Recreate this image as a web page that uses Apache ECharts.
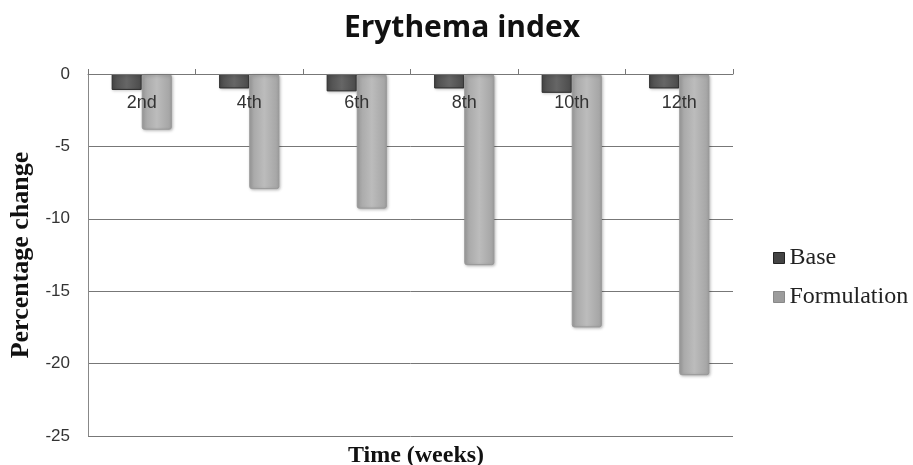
<!DOCTYPE html>
<html>
<head>
<meta charset="utf-8">
<script src="https://cdn.jsdelivr.net/npm/echarts@6/dist/echarts.min.js"></script>
<style>html,body{margin:0;padding:0;background:#fff}#c{width:913px;height:465px}</style>
</head>
<body>
<div id="c"></div>
<script>
var categories = ['2nd', '4th', '6th', '8th', '10th', '12th'];
var baseValues = [-1.1, -1.0, -1.2, -1.0, -1.3, -1.0];
var formulationValues = [-3.85, -7.95, -9.3, -13.2, -17.5, -20.8];
var yTicks = { min: -25, max: 0, interval: 5 };

var chart = echarts.init(document.getElementById('c'));
function grad(edge, mid) {
  return new echarts.graphic.LinearGradient(0, 0, 1, 0, [
    { offset: 0, color: edge }, { offset: 0.5, color: mid }, { offset: 1, color: edge }
  ]);
}
chart.setOption({
  animation: false,
  backgroundColor: '#fff',
  title: [
    { text: 'Erythema index', left: 457, textAlign: 'center', top: 8,
      textStyle: { fontFamily: 'Open Sans', fontWeight: 'bold', fontSize: 30, color: '#111' } },
    { text: 'Time (weeks)', left: 411, textAlign: 'center', top: 439,
      textStyle: { fontFamily: 'Liberation Serif', fontWeight: 'bold', fontSize: 24, color: '#111' } }
  ],
  legend: {
    orient: 'vertical', left: 768, top: 241,
    itemWidth: 11, itemHeight: 11, itemGap: 15,
    icon: 'rect',
    textStyle: { fontFamily: 'Liberation Serif', fontSize: 24, color: '#222' },
    data: [
      { name: 'Base', itemStyle: { color: '#444', borderColor: '#222', borderWidth: 1 } },
      { name: 'Formulation', itemStyle: { color: '#9c9c9c', borderColor: '#888', borderWidth: 1 } }
    ]
  },
  grid: { left: 86, right: 180, top: 74, bottom: 29, containLabel: false },
  xAxis: {
    type: 'category', position: 'top', data: categories, z: 10,
    axisLine: { show: true, onZero: false, lineStyle: { color: '#777', width: 1 } },
    axisTick: { show: true, inside: false, length: 5, alignWithLabel: false, lineStyle: { color: '#777' } },
    axisLabel: { inside: true, margin: 20, fontFamily: 'Liberation Sans', fontSize: 18, color: '#333' },
    splitLine: { show: false }
  },
  yAxis: {
    type: 'value', min: yTicks.min, max: yTicks.max, interval: yTicks.interval,
    name: 'Percentage change', nameLocation: 'middle', nameRotate: 90, nameGap: 54,
    nameTextStyle: { fontFamily: 'Liberation Serif', fontWeight: 'bold', fontSize: 26, color: '#111' },
    axisLine: { show: true, lineStyle: { color: '#888', width: 1 } },
    axisTick: { show: false },
    axisLabel: { margin: 18, fontFamily: 'Liberation Sans', fontSize: 17, color: '#333' },
    splitLine: { show: true, lineStyle: { color: '#777', width: 1 } }
  },
  series: [
    { name: 'Base', type: 'bar', data: baseValues, barGap: '0%', barCategoryGap: '44%',
      itemStyle: { color: grad('#4a4a4a', '#666'), borderColor: '#2a2a2a', borderWidth: 1,
        shadowColor: 'rgba(0,0,0,0.25)', shadowBlur: 3, shadowOffsetX: 1, shadowOffsetY: 1 } },
    { name: 'Formulation', type: 'bar', data: formulationValues,
      itemStyle: { color: grad('#a2a2a2', '#bcbcbc'), borderColor: '#999', borderWidth: 1, borderRadius: 2,
        shadowColor: 'rgba(0,0,0,0.25)', shadowBlur: 3, shadowOffsetX: 1, shadowOffsetY: 1 } }
  ]
});
</script>
</body>
</html>
